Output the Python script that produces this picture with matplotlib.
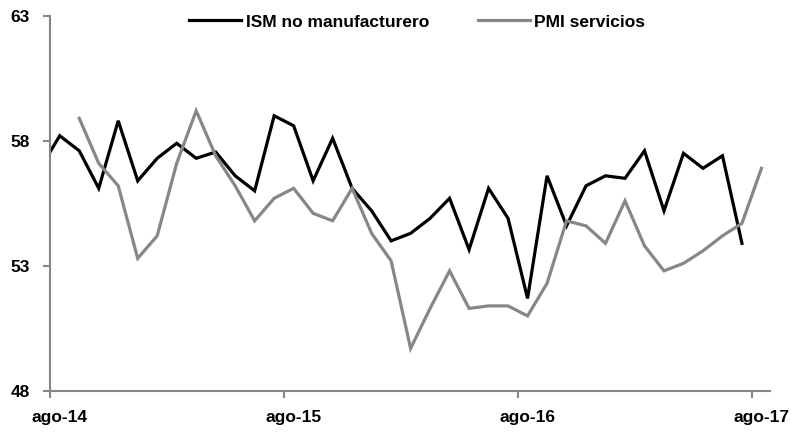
import matplotlib.pyplot as plt
import numpy as np

# meses desde ago-14 (indice 0); cada punto se dibuja en el centro de su mes
ism_inicio = -1   # jul-14
pmi_inicio = 1    # sep-14

ism_no_manuf = [56.9, 58.2, 57.6, 56.1, 58.8, 56.4, 57.3, 57.9, 57.3, 57.55,
                56.6, 56.0, 59.0, 58.6, 56.4, 58.1, 56.1, 55.2, 54.0, 54.3,
                54.9, 55.7, 53.65, 56.1, 54.9, 51.7, 56.6, 54.6, 56.2, 56.6,
                56.5, 57.6, 55.2, 57.5, 56.9, 57.4, 53.9]
pmi_servicios = [58.9, 57.1, 56.2, 53.3, 54.2, 57.1, 59.2, 57.4, 56.2, 54.8,
                 55.7, 56.1, 55.1, 54.8, 56.1, 54.3, 53.2, 49.7, 51.3, 52.8,
                 51.3, 51.4, 51.4, 51.0, 52.3, 54.8, 54.6, 53.9, 55.6, 53.8,
                 52.8, 53.1, 53.6, 54.2, 54.7, 56.9]

tick_meses = [0, 12, 24, 36]
tick_labels = ['ago-14', 'ago-15', 'ago-16', 'ago-17']
y_ticks = [48, 53, 58, 63]

GRIS_EJE = '#868686'
GRIS = '#878787'

plt.rcParams['font.family'] = ['Liberation Sans', 'DejaVu Sans']
plt.rcParams['font.weight'] = 'bold'
plt.rcParams['font.size'] = 12.5


def generar_grafica():
    fig = plt.figure(figsize=(7.91, 4.32), dpi=100)
    ax = fig.add_axes([0.0632, 0.095, 0.9103, 0.8687])

    x_ism = np.arange(len(ism_no_manuf)) + ism_inicio + 0.5
    x_pmi = np.arange(len(pmi_servicios)) + pmi_inicio + 0.5

    ax.plot(x_ism, ism_no_manuf, color='black', lw=2.3, label='ISM no manufacturero',
            solid_joinstyle='miter')
    ax.plot(x_pmi, pmi_servicios, color=GRIS, lw=2.3, label='PMI servicios',
            solid_joinstyle='miter')

    ax.set_xlim(0, 36.94)
    ax.set_ylim(48, 63)
    # marcas en el borde del mes, etiquetas centradas en el mes
    ax.set_xticks(tick_meses)
    ax.set_xticklabels([])
    ax.set_xticks([m + 0.5 for m in tick_meses], minor=True)
    ax.set_xticklabels(tick_labels, minor=True, fontweight='bold')
    ax.set_yticks(y_ticks)
    ax.set_yticklabels([str(v) for v in y_ticks], fontweight='bold')

    for lado in ['top', 'right']:
        ax.spines[lado].set_visible(False)
    for lado in ['left', 'bottom']:
        ax.spines[lado].set_color(GRIS_EJE)
        ax.spines[lado].set_linewidth(1.5)
    ax.tick_params(axis='both', colors=GRIS_EJE, length=5, width=1.5, labelcolor='black')
    ax.tick_params(axis='y', pad=9.5)
    ax.tick_params(axis='x', which='minor', length=0, pad=14)

    ax.legend(loc='upper center', bbox_to_anchor=(0.51, 1.045), ncol=2, frameon=False,
              handlelength=3.0, handletextpad=0.25, columnspacing=2.8)

    fig.savefig('out.png', dpi=100)
    plt.close(fig)


generar_grafica()
